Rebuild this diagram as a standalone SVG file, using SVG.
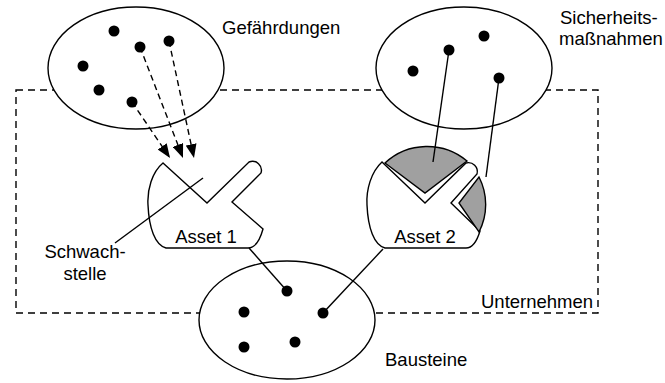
<svg xmlns="http://www.w3.org/2000/svg" width="665" height="383" viewBox="0 0 665 383">
<defs>
<style>
.lbl{font-family:"Liberation Sans",Arial,sans-serif;font-size:18.5px;fill:#000}
.ell{fill:#fff;stroke:#000;stroke-width:1.4}
.dot{fill:#000}
.ln{stroke:#000;stroke-width:1.4;fill:none}
.dash{stroke:#000;stroke-width:1.4;fill:none;stroke-dasharray:6 4}
.blob{fill:#fff;stroke:#000;stroke-width:1.4;stroke-linejoin:miter}
.grey{fill:#a0a0a0;stroke:#000;stroke-width:1.4}
</style>
<marker id="ah" viewBox="0 0 14 11" refX="14" refY="5.5" markerWidth="14" markerHeight="11" markerUnits="userSpaceOnUse" orient="auto">
<path d="M0,0 L14,5.5 L0,11 Z" fill="#000"/>
</marker>
</defs>
<rect width="665" height="383" fill="#fff"/>
<g id="unternehmen">
<rect x="16" y="90" width="582" height="223" fill="none" stroke="#000" stroke-width="1.4" stroke-dasharray="7 5"/>
<text class="lbl" x="481" y="308">Unternehmen</text>
</g>
<g id="gefaehrdungen">
<ellipse class="ell" cx="136" cy="68" rx="88" ry="61"/>
<circle class="dot" cx="114" cy="31" r="5.5"/>
<circle class="dot" cx="140" cy="47" r="5.5"/>
<circle class="dot" cx="169" cy="41" r="5.5"/>
<circle class="dot" cx="83" cy="66" r="5.5"/>
<circle class="dot" cx="99" cy="90" r="5.5"/>
<circle class="dot" cx="132" cy="102" r="5.5"/>
<text class="lbl" x="222" y="34">Gefährdungen</text>
</g>
<g id="massnahmen">
<ellipse class="ell" cx="464" cy="68" rx="88" ry="61"/>
<circle class="dot" cx="449" cy="50" r="5.5"/>
<circle class="dot" cx="484" cy="36" r="5.5"/>
<circle class="dot" cx="413" cy="71" r="5.5"/>
<circle class="dot" cx="499" cy="78" r="5.5"/>
<text class="lbl" x="560" y="24">Sicherheits-</text>
<text class="lbl" x="559" y="45">maßnahmen</text>
</g>
<g id="bausteine">
<ellipse class="ell" cx="287" cy="320" rx="88" ry="59"/>
<circle class="dot" cx="287" cy="291" r="5.5"/>
<circle class="dot" cx="244" cy="312" r="5.5"/>
<circle class="dot" cx="323" cy="313" r="5.5"/>
<circle class="dot" cx="244" cy="347" r="5.5"/>
<circle class="dot" cx="295" cy="342" r="5.5"/>
<text class="lbl" x="385" y="366">Bausteine</text>
</g>
<g id="asset1">
<path class="blob" d="M163,163 L207,203 L249,162 A9,9 0 0 1 261,173 L232,202 L263,229 C260,240 255,248 248,248 L166,248 C155,245 149,228 148,205 C147,190 152,172 163,163 Z"/>
<text class="lbl" x="206" y="243" text-anchor="middle">Asset 1</text>
</g>
<g id="asset2">
<path class="blob" d="M382,162 L425,203 L466,163 A9,9 0 0 1 477,174 L451,203 L480,231 C477,241 472,248 466,248 L385,248 C374,245 368,228 367,205 C366,190 371,172 382,162 Z"/>
<path class="grey" d="M385,163 A62,62 0 0 1 467,161 L425,193 Z"/>
<path class="grey" d="M479,177 A60,60 0 0 1 479,232 L459,203 Z"/>
<text class="lbl" x="425" y="243" text-anchor="middle">Asset 2</text>
</g>
<g id="schwachstelle">
<text class="lbl" x="85" y="258" text-anchor="middle">Schwach-</text>
<text class="lbl" x="85" y="280" text-anchor="middle">stelle</text>
</g>
<g id="connectors">
<line class="dash" x1="132" y1="102" x2="170" y2="158" marker-end="url(#ah)"/>
<line class="dash" x1="140" y1="47" x2="183" y2="158" marker-end="url(#ah)"/>
<line class="dash" x1="169" y1="41" x2="194" y2="158" marker-end="url(#ah)"/>
<line class="ln" x1="449" y1="50" x2="433" y2="162"/>
<line class="ln" x1="499" y1="78" x2="486" y2="177"/>
<line class="ln" x1="249" y1="248" x2="287" y2="291"/>
<line class="ln" x1="323" y1="313" x2="383" y2="249"/>
<line class="ln" x1="115" y1="243" x2="203" y2="178"/>
</g>
</svg>
